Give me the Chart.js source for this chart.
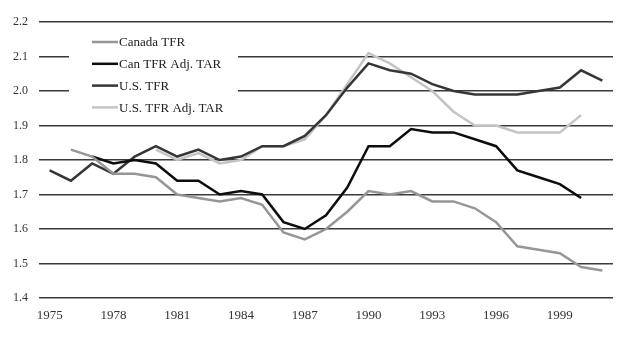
<!DOCTYPE html>
<html>
<head>
<meta charset="utf-8">
<script src="https://cdn.jsdelivr.net/npm/chart.js@4/dist/chart.umd.min.js"></script>
<style>
  html, body { margin: 0; padding: 0; background: #fff; }
  #wrap { width: 640px; height: 339px; position: relative; }
</style>
</head>
<body>
<div id="wrap"><canvas id="tfrChart"></canvas></div>
<script>
// Years on the x axis, one per category
const years = [];
for (let y = 1975; y <= 2001; y++) years.push(String(y));

// Series values (null = no data)
const canadaTfr = [null, 1.83, 1.81, 1.76, 1.76, 1.75, 1.70, 1.69, 1.68, 1.69, 1.67, 1.59, 1.57, 1.60,
    1.65, 1.71, 1.70, 1.71, 1.68, 1.68, 1.66, 1.62, 1.55, 1.54, 1.53, 1.49, 1.48];
const canAdjTar = [null, null, 1.81, 1.79, 1.80, 1.79, 1.74, 1.74, 1.70, 1.71, 1.70, 1.62, 1.60, 1.64,
    1.72, 1.84, 1.84, 1.89, 1.88, 1.88, 1.86, 1.84, 1.77, 1.75, 1.73, 1.69, null];
const usTfr = [1.77, 1.74, 1.79, 1.76, 1.81, 1.84, 1.81, 1.83, 1.80, 1.81, 1.84, 1.84, 1.87, 1.93,
    2.01, 2.08, 2.06, 2.05, 2.02, 2.00, 1.99, 1.99, 1.99, 2.00, 2.01, 2.06, 2.03];
const usAdjTar = [null, null, null, null, null, 1.83, 1.80, 1.82, 1.79, 1.80, 1.84, 1.84, 1.86, 1.93,
    2.02, 2.11, 2.08, 2.04, 2.00, 1.94, 1.90, 1.90, 1.88, 1.88, 1.88, 1.93, null];

// Tick labels
const yearLabels = ['1975', '1978', '1981', '1984', '1987', '1990', '1993', '1996', '1999'];
const yTicks = [1.4, 1.5, 1.6, 1.7, 1.8, 1.9, 2.0, 2.1, 2.2];

const FONT = '"Liberation Serif", "DejaVu Serif", serif';

// Legend sits inside the plot on a white box, top left
const boxLegend = {
    id: 'boxLegend',
    afterDatasetsDraw(chart) {
        const c = chart.ctx;
        c.save();
        c.fillStyle = '#fff';
        c.fillRect(69, 31, 169, 87);
        c.font = '13px ' + FONT;
        c.textBaseline = 'middle';
        c.textAlign = 'left';
        chart.data.datasets.forEach((ds, i) => {
            const y = 42 + i * 21.8;
            c.strokeStyle = ds.borderColor;
            c.lineWidth = ds.borderWidth;
            c.beginPath();
            c.moveTo(92, y);
            c.lineTo(118, y);
            c.stroke();
            c.fillStyle = '#222';
            c.fillText(ds.label, 119, y + 1);
        });
        c.restore();
    }
};

const ctx = document.getElementById('tfrChart');
new Chart(ctx, {
    type: 'line',
    data: {
        labels: years,
        datasets: [
            { label: 'Canada TFR', data: canadaTfr, borderColor: '#969696' },
            { label: 'Can TFR Adj. TAR', data: canAdjTar, borderColor: '#0d0d0d' },
            { label: 'U.S. TFR', data: usTfr, borderColor: '#363636' },
            { label: 'U.S. TFR Adj. TAR', data: usAdjTar, borderColor: '#c4c4c4' }
        ].map(ds => Object.assign(ds, {
            borderWidth: 2.5,
            tension: 0,
            pointRadius: 0,
            fill: false,
            spanGaps: false
        }))
    },
    options: {
        responsive: true,
        maintainAspectRatio: false,
        animation: false,
        layout: { padding: { top: 22, right: 27, left: 0, bottom: 0 } },
        plugins: {
            legend: { display: false },
            tooltip: { enabled: false }
        },
        scales: {
            x: {
                offset: true,
                grid: { display: false, drawTicks: false },
                border: { display: false },
                afterFit(scale) { scale.height = 41; },
                ticks: {
                    autoSkip: false,
                    maxRotation: 0,
                    padding: 10,
                    color: '#333',
                    font: { family: FONT, size: 13 },
                    callback(value, index) {
                        const lab = years[index];
                        return yearLabels.includes(lab) ? lab : '';
                    }
                }
            },
            y: {
                min: yTicks[0],
                max: yTicks[yTicks.length - 1],
                afterFit(scale) { scale.width = 39; },
                afterBuildTicks(scale) {
                    scale.ticks = yTicks.map(v => ({ value: v }));
                },
                grid: { color: '#3a3a3a', lineWidth: 1.5, drawTicks: false },
                border: { display: false },
                ticks: {
                    padding: 11,
                    color: '#333',
                    font: { family: FONT, size: 12 },
                    callback: v => Number(v).toFixed(1)
                }
            }
        }
    },
    plugins: [boxLegend]
});
</script>
</body>
</html>
